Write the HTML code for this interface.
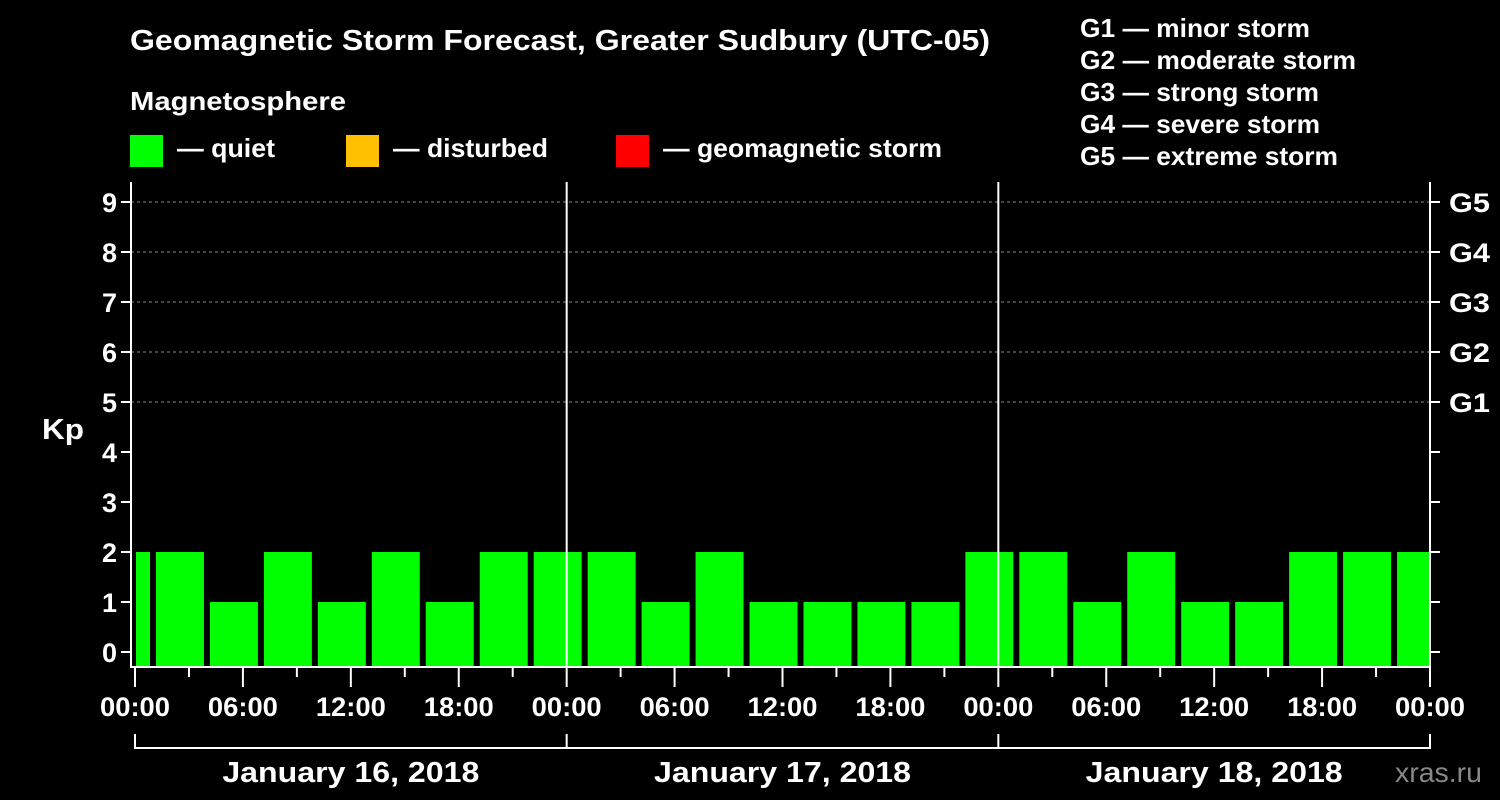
<!DOCTYPE html>
<html><head><meta charset="utf-8"><style>
body{margin:0;background:#000;}
svg{display:block;font-family:"Liberation Sans",Arial,sans-serif;font-weight:bold;}
</style></head><body>
<svg id="c" width="1500" height="800">
<rect width="1500" height="800" fill="#000"/>
<text x="130" y="50" fill="#fff" font-size="29" textLength="860" lengthAdjust="spacingAndGlyphs">Geomagnetic Storm Forecast, Greater Sudbury (UTC-05)</text>
<text x="130" y="110" fill="#fff" font-size="26" textLength="216" lengthAdjust="spacingAndGlyphs">Magnetosphere</text>
<rect x="130" y="135" width="33" height="32" fill="#00ff00"/>
<text x="177" y="157" fill="#fff" font-size="26" textLength="98" lengthAdjust="spacingAndGlyphs">— quiet</text>
<rect x="346" y="135" width="33" height="32" fill="#ffc000"/>
<text x="393" y="157" fill="#fff" font-size="26" textLength="155" lengthAdjust="spacingAndGlyphs">— disturbed</text>
<rect x="616" y="135" width="33" height="32" fill="#ff0000"/>
<text x="663" y="157" fill="#fff" font-size="26" textLength="279" lengthAdjust="spacingAndGlyphs">— geomagnetic storm</text>
<g fill="#fff" font-size="26">
<text x="1080" y="37" textLength="230" lengthAdjust="spacingAndGlyphs">G1 — minor storm</text>
<text x="1080" y="69" textLength="276" lengthAdjust="spacingAndGlyphs">G2 — moderate storm</text>
<text x="1080" y="101" textLength="239" lengthAdjust="spacingAndGlyphs">G3 — strong storm</text>
<text x="1080" y="133" textLength="240" lengthAdjust="spacingAndGlyphs">G4 — severe storm</text>
<text x="1080" y="165" textLength="258" lengthAdjust="spacingAndGlyphs">G5 — extreme storm</text>
</g>
<text x="42" y="439" fill="#fff" font-size="29" textLength="42" lengthAdjust="spacingAndGlyphs">Kp</text>
<text x="1395" y="782" fill="#888" font-size="28" font-weight="normal" textLength="87" lengthAdjust="spacingAndGlyphs">xras.ru</text>
<g id="plot"></g>
</svg>
<script>
const barStartHours=[-2,1,4,7,10,13,16,19,22,25,28,31,34,37,40,43,46,49,52,55,58,61,64,67,70];
const kpValues=[2,2,1,2,1,2,1,2,2,2,1,2,1,1,1,1,2,2,1,2,1,1,2,2,2];
const yTicks=[0,1,2,3,4,5,6,7,8,9];
const gLabels=["","","","","","G1","G2","G3","G4","G5"];
const xTickLabels=["00:00","06:00","12:00","18:00","00:00","06:00","12:00","18:00","00:00","06:00","12:00","18:00","00:00"];
const dateLabels=["January 16, 2018","January 17, 2018","January 18, 2018"];
const NS="http://www.w3.org/2000/svg";
const L=131,R=1430,T=182,B=667,X0=135,X1=1430,H=72;
const x=h=>X0+(X1-X0)*h/H;
const y=v=>652-50*v;
const g=document.getElementById('plot');
function mk(t,a){const e=document.createElementNS(NS,t);for(const k in a)e.setAttribute(k,a[k]);g.appendChild(e);return e;}
yTicks.forEach((v,i)=>{
  if(v>=5){const l=mk('line',{x1:L,x2:R,y1:y(v),y2:y(v),stroke:'#888','stroke-dasharray':'3,3','stroke-width':1});
  
  }
  const t1=mk('line',{x1:L-10,x2:L,y1:y(v),y2:y(v),stroke:'#fff','stroke-width':2});
  
  
  const t2=mk('line',{x1:R,x2:R+10,y1:y(v),y2:y(v),stroke:'#fff','stroke-width':2});
  
  
  const lb=mk('text',{x:L-14,y:y(v)+10,fill:'#fff','font-size':27,'text-anchor':'end'});lb.textContent=v;
  
  
  if(gLabels[i]){const gl=mk('text',{x:R+19,y:y(v)+10,fill:'#fff','font-size':27,textLength:41,lengthAdjust:'spacingAndGlyphs'});gl.textContent=gLabels[i];
  
  }
});
barStartHours.forEach((h,i)=>{
  let a=x(h)+3,b=x(h+3)-3;a=Math.max(a,X0+1);b=Math.min(b,X1);
  const v=kpValues[i];const c=v>=5?'#ff0000':(v>=4?'#ffc000':'#00ff00');
  const r=mk('rect',{x:a,y:y(v),width:b-a,height:B-1-y(v),fill:c});
  
  
});
[24,48].forEach(h=>{const l=mk('line',{x1:x(h),x2:x(h),y1:T,y2:B,stroke:'#fff','stroke-width':2});
  
  });
const ax=mk('path',{d:`M${L} ${T}V${B}H${R}V${T}`,stroke:'#fff','stroke-width':2,fill:'none'});


for(let h=0;h<=72;h+=3){const tk=mk('line',{x1:x(h),x2:x(h),y1:B,y2:h%6?B+10:B+20,stroke:'#fff','stroke-width':2});
  
  }
xTickLabels.forEach((s,i)=>{const t=mk('text',{x:x(i*6),y:716,fill:'#fff','font-size':27,'text-anchor':'middle',textLength:70,lengthAdjust:'spacingAndGlyphs'});t.textContent=s;
  
  });
const br=mk('path',{d:`M${x(0)} 748H${x(72)}`+[0,24,48,72].map(h=>`M${x(h)} 734V749`).join(''),stroke:'#fff','stroke-width':2,fill:'none'});


dateLabels.forEach((s,i)=>{const t=mk('text',{x:x(i*24+12),y:782,fill:'#fff','font-size':29,'text-anchor':'middle',textLength:257,lengthAdjust:'spacingAndGlyphs'});t.textContent=s;
  
  });
</script>
</body></html>
